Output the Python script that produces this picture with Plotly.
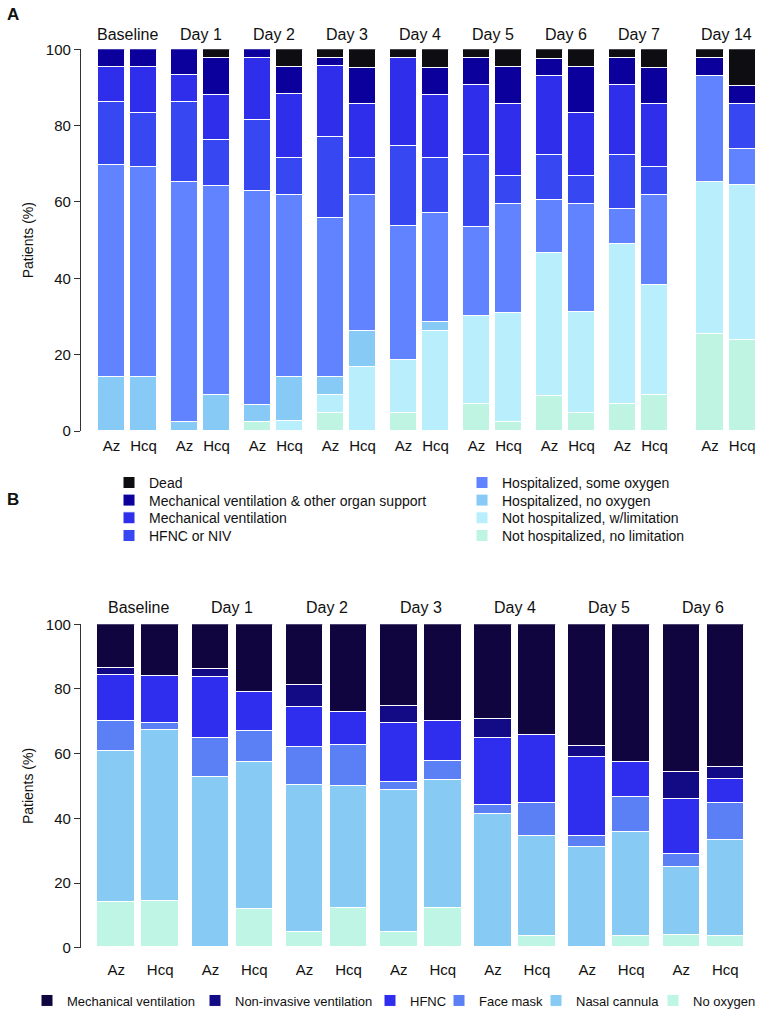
import plotly.graph_objects as go

# ---------------- DATA ----------------
# Panel A: ordinal scale, % of patients per arm
DAYS_A = ["Baseline", "Day 1", "Day 2", "Day 3", "Day 4", "Day 5", "Day 6", "Day 7", "Day 14"]
ARMS = ["Az", "Hcq"]
CATS_A = ["Not hospitalized, no limitation", "Not hospitalized, w/limitation",
          "Hospitalized, no oxygen", "Hospitalized, some oxygen", "HFNC or NIV",
          "Mechanical ventilation", "Mechanical ventilation & other organ support", "Dead"]

A_NOLIM_AZ = [0, 0, 2.2, 4.6, 4.6, 7.0, 9.2, 7.0, 25.4]
A_WLIM_AZ = [0, 0, 0, 4.8, 14.0, 23.1, 37.4, 41.9, 39.8]
A_NOOX_AZ = [14.0, 2.2, 4.6, 4.6, 0, 0, 0, 0, 0]
A_SOME_AZ = [55.7, 62.9, 55.9, 41.7, 34.9, 23.3, 13.8, 9.2, 27.8]
A_HFNC_AZ = [16.3, 20.9, 18.6, 21.2, 21.0, 18.7, 11.7, 14.0, 0]
A_MV_AZ = [9.3, 7.1, 16.3, 18.6, 23.1, 18.6, 20.9, 18.6, 0]
A_MVO_AZ = [4.7, 6.9, 2.4, 2.1, 0, 6.9, 4.5, 6.9, 4.6]
A_DEAD_AZ = [0, 0, 0, 2.4, 2.4, 2.4, 2.5, 2.4, 2.4]

A_NOLIM_HCQ = [0, 0, 0, 0, 0, 2.4, 4.6, 9.3, 23.8]
A_WLIM_HCQ = [0, 0, 2.6, 16.7, 26.2, 28.4, 26.4, 28.8, 40.5]
A_NOOX_HCQ = [14.2, 9.4, 11.6, 9.3, 2.4, 0, 0, 0, 0]
A_SOME_HCQ = [54.9, 54.8, 47.5, 35.7, 28.4, 28.7, 28.4, 23.6, 9.5]
A_HFNC_HCQ = [14.1, 11.9, 9.7, 9.7, 14.4, 7.1, 7.2, 7.3, 11.8]
A_MV_HCQ = [12.1, 11.9, 16.8, 14.3, 16.5, 19.1, 16.6, 16.6, 0]
A_MVO_HCQ = [4.7, 9.6, 7.0, 9.3, 7.1, 9.5, 12.0, 9.4, 4.8]
A_DEAD_HCQ = [0, 2.4, 4.8, 5.0, 5.0, 4.8, 4.8, 5.0, 9.6]

# Panel B: oxygen support, % of patients per arm
DAYS_B = ["Baseline", "Day 1", "Day 2", "Day 3", "Day 4", "Day 5", "Day 6"]
CATS_B = ["No oxygen", "Nasal cannula", "Face mask", "HFNC",
          "Non-invasive ventilation", "Mechanical ventilation"]

B_NOOX_AZ = [13.9, 0, 4.9, 4.8, 0, 0, 3.9]
B_NC_AZ = [46.9, 52.6, 45.4, 44.0, 41.2, 30.9, 20.9]
B_FM_AZ = [9.2, 12.1, 11.8, 2.4, 2.9, 3.6, 4.2]
B_HFNC_AZ = [14.1, 19.0, 12.1, 18.2, 20.6, 24.3, 17.0]
B_NIV_AZ = [2.3, 2.4, 7.0, 5.3, 6.0, 3.6, 8.2]
B_MECH_AZ = [13.6, 13.9, 18.8, 25.3, 29.3, 37.6, 45.8]

B_NOOX_HCQ = [14.2, 12.0, 12.2, 12.1, 3.4, 3.4, 3.4]
B_NC_HCQ = [52.9, 45.3, 37.8, 39.7, 31.1, 32.2, 29.9]
B_FM_HCQ = [2.3, 9.7, 12.5, 5.9, 10.3, 11.0, 11.3]
B_HFNC_HCQ = [14.4, 11.9, 10.3, 12.2, 20.8, 10.7, 7.5]
B_NIV_HCQ = [0, 0, 0, 0, 0, 0, 3.6]
B_MECH_HCQ = [16.2, 21.1, 27.2, 30.1, 34.4, 42.7, 44.3]

Y_TICKS = [0, 20, 40, 60, 80, 100]

# ---------------- STYLE ----------------
COLORS_A = ["#bff4e3", "#b9effd", "#86caf5", "#6283ff", "#3748f2", "#2e2eeb", "#0b009c", "#0d0d12"]
COLORS_B = ["#bef5e5", "#87cbf5", "#5b7ff5", "#302eee", "#130a85", "#10053f"]
FONT = "Liberation Sans, Arial, sans-serif"
W, H = 760, 1009

SERIES_A = [(A_NOLIM_AZ, A_NOLIM_HCQ), (A_WLIM_AZ, A_WLIM_HCQ), (A_NOOX_AZ, A_NOOX_HCQ),
            (A_SOME_AZ, A_SOME_HCQ), (A_HFNC_AZ, A_HFNC_HCQ), (A_MV_AZ, A_MV_HCQ),
            (A_MVO_AZ, A_MVO_HCQ), (A_DEAD_AZ, A_DEAD_HCQ)]
SERIES_B = [(B_NOOX_AZ, B_NOOX_HCQ), (B_NC_AZ, B_NC_HCQ), (B_FM_AZ, B_FM_HCQ),
            (B_HFNC_AZ, B_HFNC_HCQ), (B_NIV_AZ, B_NIV_HCQ), (B_MECH_AZ, B_MECH_HCQ)]

# group positions (Day 14 separated by extra gap)
grp_a = [i for i in range(len(DAYS_A) - 1)] + [len(DAYS_A) - 1 + 0.2]
grp_b = list(range(len(DAYS_B)))
OFF_A, OFF_B = 0.2205, 0.2335


def bar_x(groups, off):
    xs = []
    for g in groups:
        xs += [g - off, g + off]
    return xs


def interleave(az, hcq):
    out = []
    for a, h in zip(az, hcq):
        out += [a if a else None, h if h else None]
    return out


xa = bar_x(grp_a, OFF_A)
xb = bar_x(grp_b, OFF_B)

# legend placement (pixels): box-left x, row centre y
LEG_A_COL = [462, 462, 462, 462, 109, 109, 109, 109]          # per category of CATS_A
LEG_A_ROW = [534.7, 517, 499.3, 481.7, 534.7, 517, 499.3, 481.7]
LEG_B_X = [653, 536, 439, 370, 195, 27]                        # per category of CATS_B
LEG_B_Y = 1000
LEG_DY_A = 14.8
LEG_DY_B = 14.5

fig = go.Figure()
layout_legends = {}

for k, (name, (az, hcq)) in enumerate(zip(CATS_A, SERIES_A)):
    lname = "legend" if k == 0 else "legend%d" % (k + 1)
    fig.add_trace(go.Bar(
        x=xa, y=interleave(az, hcq), name=name, xaxis="x", yaxis="y",
        width=0.374, marker=dict(color=COLORS_A[k], line=dict(color="white", width=1)),
        legend=lname, hovertemplate="%{y:.1f}%<extra>" + name + "</extra>"))
    layout_legends[lname] = dict(x=LEG_A_COL[k] / W, y=1 - (LEG_A_ROW[k] - LEG_DY_A) / H,
                                 font=dict(size=14, color="#111", family=FONT))

for k, (name, (az, hcq)) in enumerate(zip(CATS_B, SERIES_B)):
    lname = "legend%d" % (9 + k)
    fig.add_trace(go.Bar(
        x=xb, y=interleave(az, hcq), name=name, xaxis="x2", yaxis="y2",
        width=0.40, marker=dict(color=COLORS_B[k], line=dict(color="white", width=1)),
        legend=lname, hovertemplate="%{y:.1f}%<extra>" + name + "</extra>"))
    layout_legends[lname] = dict(x=LEG_B_X[k] / W, y=1 - (LEG_B_Y - LEG_DY_B) / H,
                                 font=dict(size=13, color="#111", family=FONT))

for lname, spec in layout_legends.items():
    spec.update(bgcolor="rgba(0,0,0,0)", borderwidth=0, xanchor="left", yanchor="top")

XDOM = [81 / W, 758 / W]
YDOM_A = [1 - 431 / H, 1 - 49.3 / H]
YDOM_B = [1 - 947.7 / H, 1 - 624.3 / H]
RANGE_A = [-0.637, 8.637]
RANGE_B = [-0.607, 6.58]

yaxis_common = dict(range=[0, 100], tickvals=Y_TICKS, showline=True, linecolor="#333", linewidth=1.3,
                    ticks="outside", ticklen=6, tickwidth=1.3, tickcolor="#333", showgrid=False,
                    zeroline=False, tickfont=dict(size=15, color="#111"),
                    title=dict(text="Patients (%)", font=dict(size=14, color="#111"), standoff=8))
bottom_common = dict(showline=False, showgrid=False, zeroline=False, ticks="", tickfont=dict(size=15, color="#111"))

annotations = [
    dict(text="<b>A</b>", x=5 / W, y=1 - 3 / H, xref="paper", yref="paper", xanchor="left", yanchor="top",
         showarrow=False, font=dict(size=17, color="#111")),
    dict(text="<b>B</b>", x=5 / W, y=1 - 488 / H, xref="paper", yref="paper", xanchor="left", yanchor="top",
         showarrow=False, font=dict(size=17, color="#111")),
]
for g, lab in zip(grp_a, DAYS_A):
    annotations.append(dict(text=lab, x=g, y=1 - 35 / H, xref="x", yref="paper", xanchor="center",
                            yanchor="middle", showarrow=False, font=dict(size=16, color="#111")))
for g, lab in zip(grp_b, DAYS_B):
    annotations.append(dict(text=lab, x=g, y=1 - 607 / H, xref="x2", yref="paper", xanchor="center",
                            yanchor="middle", showarrow=False, font=dict(size=16, color="#111")))

fig.update_layout(
    width=W, height=H, autosize=False, margin=dict(l=0, r=0, t=0, b=0, autoexpand=False),
    paper_bgcolor="white", plot_bgcolor="white", barmode="stack", bargap=0,
    font=dict(family=FONT, color="#111"), showlegend=True,
    xaxis=dict(domain=XDOM, range=RANGE_A, anchor="y", tickvals=xa, ticktext=ARMS * len(DAYS_A),
               ticklabelstandoff=4, **bottom_common),
    yaxis=dict(domain=YDOM_A, anchor="x", **yaxis_common),
    xaxis2=dict(domain=XDOM, range=RANGE_B, anchor="y2", tickvals=xb, ticktext=ARMS * len(DAYS_B),
                ticklabelstandoff=11, **bottom_common),
    yaxis2=dict(domain=YDOM_B, anchor="x2", **yaxis_common),
    annotations=annotations,
    **layout_legends,
)
fig.write_html("out.html", config={"displayModeBar": False},
               post_script="document.body.style.margin='0';document.body.style.overflow='hidden';")
